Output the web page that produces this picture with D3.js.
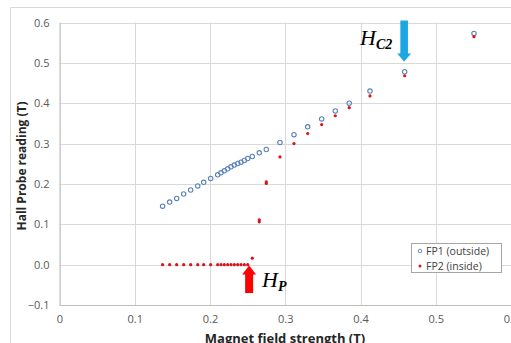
<!DOCTYPE html>
<html><head><meta charset="utf-8">
<script src="https://cdn.jsdelivr.net/npm/d3@7"></script>
<style>body{margin:0;background:#fff;}svg{display:block;}</style>
</head><body>
<svg id="c" width="511" height="343"></svg>
<script>
const fieldB = [0.137,0.1464,0.1557,0.165,0.1743,0.1837,0.1916,0.2009,0.2102,0.2146,0.219,0.2235,0.2279,0.2323,0.2368,0.2412,0.2456,0.2501,0.2562,0.2655,0.2748,0.293,0.3116,0.3298,0.3484,0.3665,0.385,0.4126,0.4587,0.5508];
const fp1 = [0.145,0.155,0.164,0.175,0.185,0.195,0.204,0.2134,0.2225,0.2275,0.2325,0.2374,0.2424,0.2466,0.2506,0.254,0.258,0.263,0.268,0.277,0.2853,0.3026,0.322,0.3415,0.361,0.381,0.400,0.430,0.478,0.573];
const fieldB2 = [0.137,0.1464,0.1557,0.165,0.1743,0.1837,0.1916,0.2009,0.2102,0.2146,0.219,0.2235,0.2279,0.2323,0.2368,0.2412,0.2456,0.2501,0.2562,0.2655,0.2655,0.2748,0.2748,0.293,0.3116,0.3298,0.3484,0.3665,0.385,0.4126,0.4587,0.5508];
const fp2 = [0,0,0,0,0,0,0,0,0,0,0,0,0,0,0,0,0,0,0.016,0.111,0.106,0.205,0.201,0.267,0.300,0.325,0.347,0.369,0.389,0.418,0.468,0.565];
const xTicks = [0,0.1,0.2,0.3,0.4,0.5,0.6];
const yTicks = [-0.1,0.0,0.1,0.2,0.3,0.4,0.5,0.6];
const seriesNames = ["FP1 (outside)","FP2 (inside)"];

const svg = d3.select("#c");
const x = d3.scaleLinear().domain([0,0.6]).range([59.5,511]);
const y = d3.scaleLinear().domain([-0.1,0.6]).range([305,22.5]);
const font = "'Open Sans', 'Liberation Sans', sans-serif";

// outer chart border
svg.append("path").attr("d","M10.5,343 V7.5 H511").attr("fill","none").attr("stroke","#d9d9d9").attr("stroke-width",1);

// gridlines
svg.append("g").selectAll("line").data(yTicks).join("line")
  .attr("x1",x(0)).attr("x2",511).attr("y1",d=>Math.round(y(d))+0.5).attr("y2",d=>Math.round(y(d))+0.5)
  .attr("stroke","#d9d9d9").attr("stroke-width",1);
svg.append("g").selectAll("line").data(xTicks).join("line")
  .attr("y1",y(0.6)).attr("y2",y(-0.1)).attr("x1",d=>Math.round(x(d))+0.5).attr("x2",d=>Math.round(x(d))+0.5)
  .attr("stroke","#d9d9d9").attr("stroke-width",1);

// axes
const ya = svg.append("g").attr("transform",`translate(${x(0)},0)`)
  .call(d3.axisLeft(y).tickValues(yTicks).tickFormat(d3.format(".1f")).tickSize(0).tickPadding(10));
ya.select(".domain").attr("stroke","#bfbfbf");
ya.selectAll("text").attr("font-family",font).attr("font-size",11).attr("fill","#595959");
const xa = svg.append("g").attr("transform",`translate(0,${y(-0.1)})`)
  .call(d3.axisBottom(x).tickValues(xTicks).tickFormat(d=>d===0?"0":d3.format(".1f")(d)).tickSize(0).tickPadding(10));
xa.select(".domain").attr("stroke","#bfbfbf");
xa.selectAll("text").attr("font-family",font).attr("font-size",11).attr("fill","#595959");

// axis titles
svg.append("text").attr("transform",`translate(26,166) rotate(-90)`).attr("text-anchor","middle")
  .attr("font-family",font).attr("font-weight","bold").attr("font-size",12).attr("fill","#262626")
  .text("Hall Probe reading (T)");
svg.append("text").attr("x",285).attr("y",343).attr("text-anchor","middle")
  .attr("font-family",font).attr("font-weight","bold").attr("font-size",13).attr("fill","#262626")
  .text("Magnet field strength (T)");

// series
svg.append("g").selectAll("circle").data(fieldB.map((b,i)=>[b,fp1[i]])).join("circle")
  .attr("cx",d=>x(d[0])).attr("cy",d=>y(d[1])).attr("r",2.2)
  .attr("fill","none").attr("stroke","#5b82b5").attr("stroke-width",1.1);
svg.append("g").selectAll("circle").data(fieldB2.map((b,i)=>[b,fp2[i]])).join("circle")
  .attr("cx",d=>x(d[0])).attr("cy",d=>y(d[1])).attr("r",1.6)
  .attr("fill","#d8141a");

// legend
const lg = svg.append("g");
lg.append("rect").attr("x",411.5).attr("y",243.5).attr("width",90).attr("height",29)
  .attr("fill","#fff").attr("stroke","#a6a6a6");
lg.append("circle").attr("cx",420).attr("cy",251).attr("r",1.8).attr("fill","none").attr("stroke","#5b82b5").attr("stroke-width",0.9);
lg.append("circle").attr("cx",420).attr("cy",266).attr("r",1.5).attr("fill","#d8141a");
lg.selectAll("text.l").data(seriesNames).join("text").attr("class","l")
  .attr("x",426).attr("y",(d,i)=>251+i*15).attr("dy","0.35em")
  .attr("font-family",font).attr("font-size",10.5).attr("fill","#404040").text(d=>d);

// arrows
function arrowDown(cx, top, tip, color){
  const sw=3.8, hw=7, hh=8;
  svg.append("path").attr("d",
    `M${cx-sw},${top} H${cx+sw} V${tip-hh} H${cx+hw} L${cx},${tip} L${cx-hw},${tip-hh} H${cx-sw} Z`).attr("fill",color);
}
function arrowUp(cx, bottom, tip, color){
  const sw=4, hw=7, hh=9;
  svg.append("path").attr("d",
    `M${cx-sw},${bottom} H${cx+sw} V${tip+hh} H${cx+hw} L${cx},${tip} L${cx-hw},${tip+hh} H${cx-sw} Z`).attr("fill",color);
}
arrowDown(x(0.458), 20.5, 61.5, "#1ba7e1");
arrowUp(x(0.252), 293, 265.5, "#ff0000");

// labels
const serif = "'DejaVu Serif', 'Liberation Serif', serif";
const t1 = svg.append("text").attr("x",360).attr("y",45).attr("font-family","'Liberation Serif', serif").attr("font-style","italic").attr("fill","#000");
t1.append("tspan").attr("font-size",22).text("H");
t1.append("tspan").attr("font-size",14).attr("font-weight","bold").attr("dy",4).text("C2");
const t2 = svg.append("text").attr("x",262).attr("y",287).attr("font-family","'Liberation Serif', serif").attr("font-style","italic").attr("fill","#000");
t2.append("tspan").attr("font-size",22).text("H");
t2.append("tspan").attr("font-size",14).attr("font-weight","bold").attr("dy",4).text("P");
</script>
</body></html>
